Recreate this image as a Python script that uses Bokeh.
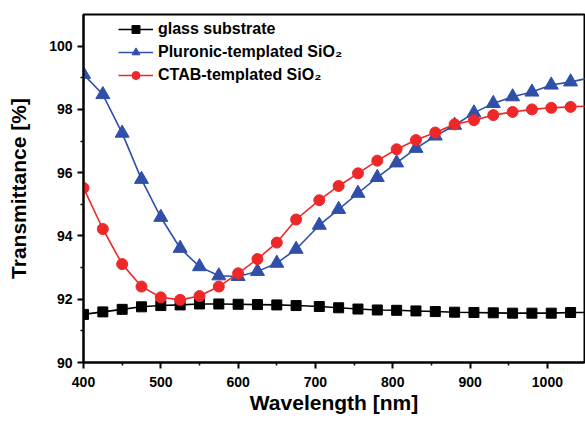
from bokeh.plotting import figure
from bokeh.models import Range1d, FixedTicker, Legend, LegendItem
from bokeh.embed import file_html
from bokeh.resources import INLINE

# ---- data ----
wavelength = [400, 425, 450, 475, 500, 525, 550, 575, 600, 625, 650, 675,
              705, 730, 755, 780, 805, 830, 855, 880, 905, 930, 955, 980, 1005, 1030]
glass = [91.52, 91.60, 91.68, 91.76, 91.80, 91.82, 91.85, 91.85, 91.84, 91.83, 91.82, 91.80,
         91.77, 91.73, 91.69, 91.66, 91.65, 91.63, 91.61, 91.59, 91.58, 91.57, 91.56, 91.56, 91.56, 91.58]
pluronic = [99.11, 98.47, 97.25, 95.79, 94.59, 93.61, 93.03, 92.74, 92.72, 92.88, 93.14, 93.58,
            94.34, 94.84, 95.35, 95.85, 96.31, 96.77, 97.16, 97.50, 97.89, 98.19, 98.40, 98.55, 98.77, 98.87]
ctab = [95.52, 94.22, 93.11, 92.40, 92.06, 91.98, 92.10, 92.40, 92.82, 93.27, 93.79, 94.52,
        95.13, 95.58, 95.98, 96.38, 96.74, 97.03, 97.27, 97.53, 97.66, 97.82, 97.92, 98.00, 98.05, 98.08]
# line continuation to the right frame edge
edge_wl = 1050
glass_edge = 91.58
pluronic_edge = 98.97
ctab_edge = 98.10

x_ticks = [400, 500, 600, 700, 800, 900, 1000]
x_minor = [450, 550, 650, 750, 850, 950, 1050]
y_ticks = [90, 92, 94, 96, 98, 100]
y_minor = [91, 93, 95, 97, 99]

labels = ["glass substrate", "Pluronic-templated SiO\u2082", "CTAB-templated SiO\u2082"]

BLUE = "#2F4FA8"
RED = "#EE2828"
FONT = "Liberation Sans"

p = figure(width=585, height=424, output_backend="svg", toolbar_location=None,
           x_range=Range1d(400, 1048), y_range=Range1d(90, 101),
           min_border_left=83, min_border_right=1, min_border_top=14, min_border_bottom=62)
p.xgrid.visible = False
p.ygrid.visible = False
p.outline_line_color = "black"
p.outline_line_width = 2
p.background_fill_color = "white"
p.border_fill_color = "white"

for ax in (p.xaxis[0], p.yaxis[0]):
    ax.axis_line_width = 2
    ax.major_tick_line_width = 2
    ax.minor_tick_line_width = 1.5
    ax.major_tick_out = 6
    ax.major_tick_in = 0
    ax.minor_tick_out = 3
    ax.minor_tick_in = 0
    ax.major_label_text_font = FONT
    ax.major_label_text_font_style = "bold"
    ax.major_label_text_font_size = "14px"
    ax.major_label_text_color = "black"
    ax.axis_label_text_font = FONT
    ax.axis_label_text_font_style = "bold"
    ax.axis_label_text_font_size = "21px"
    ax.axis_label_text_color = "black"

p.xaxis.ticker = FixedTicker(ticks=x_ticks, minor_ticks=x_minor)
p.yaxis.ticker = FixedTicker(ticks=y_ticks, minor_ticks=y_minor)
p.xaxis.axis_label = "Wavelength [nm]"
p.yaxis.axis_label = "Transmittance [%]"
p.xaxis.major_label_standoff = 8
p.yaxis.major_label_standoff = 5
p.xaxis.axis_label_standoff = 1
p.yaxis.axis_label_standoff = 16

series = [(glass, glass_edge, "black", "square", 10),
          (pluronic, pluronic_edge, BLUE, "triangle", 14),
          (ctab, ctab_edge, RED, "circle", 11)]
items = []
for (vals, edge, color, marker, size), lab in zip(series, labels):
    ln = p.line(wavelength + [edge_wl], vals + [edge], line_color=color, line_width=1.6)
    sc = p.scatter(wavelength, vals, marker=marker, size=size,
                   fill_color=color, line_color=color)
    items.append(LegendItem(label=lab, renderers=[ln, sc]))

legend = Legend(items=items, location=(35, 277))
legend.label_text_font = FONT
legend.label_text_font_style = "bold"
legend.label_text_font_size = "16px"
legend.label_text_color = "black"
legend.glyph_width = 35
legend.glyph_height = 20
legend.label_height = 20
legend.label_standoff = 5
legend.spacing = 3
legend.padding = 0
legend.margin = 0
legend.background_fill_alpha = 0
legend.border_line_alpha = 0
p.add_layout(legend)

open("out.html", "w").write(file_html(p, INLINE))
